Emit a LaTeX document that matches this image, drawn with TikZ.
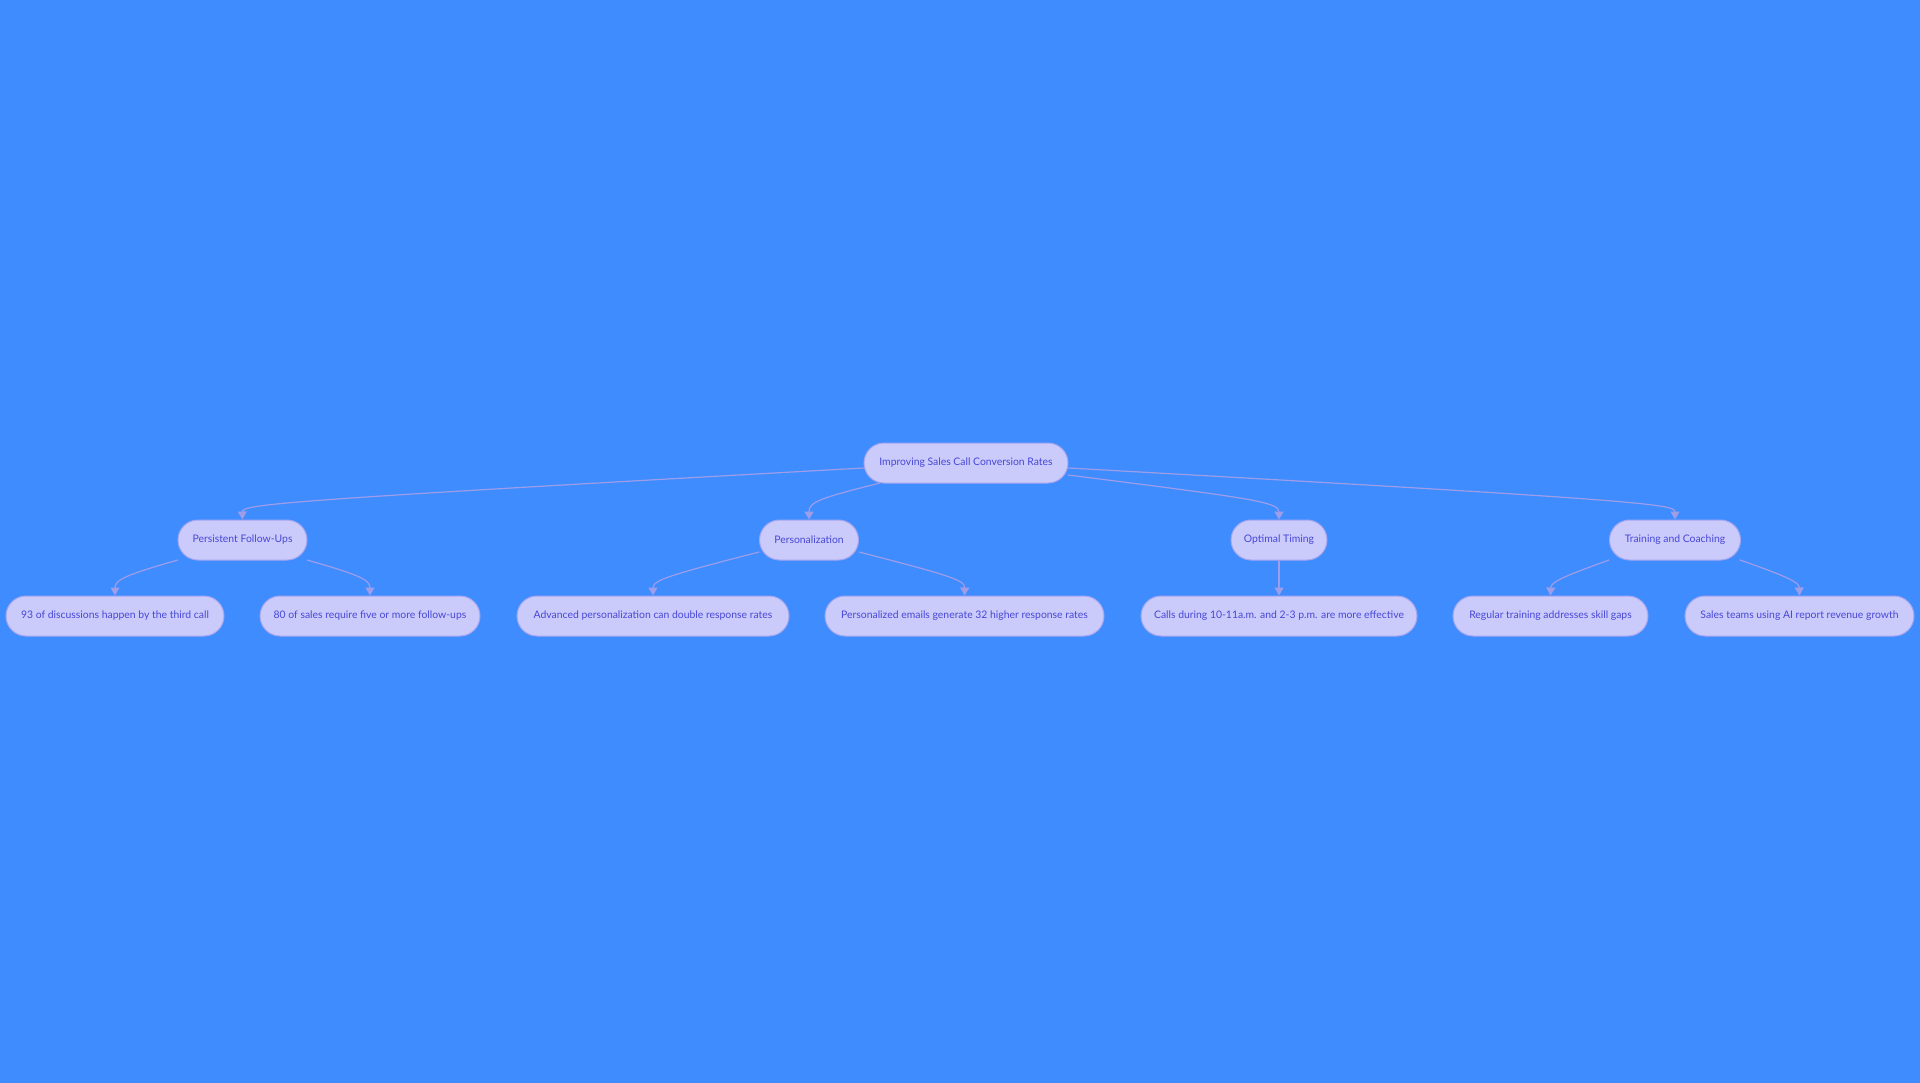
\documentclass[tikz,border=0pt]{standalone}
\usepackage{fontspec}
\setmainfont{Lato}
\usetikzlibrary{arrows.meta}
\definecolor{bgblue}{HTML}{3F8CFF}
\definecolor{pillfill}{HTML}{CACBFB}
\definecolor{pilldraw}{HTML}{A4A5F0}
\definecolor{pilltext}{HTML}{4747D6}
\definecolor{linkcol}{HTML}{9D9DE9}
\tikzset{
	pill/.style={draw=pilldraw, fill=pillfill, text=pilltext, line width=1pt,
		rounded corners=20pt, minimum height=40pt, inner xsep=12pt,
		font=\fontsize{10.4}{12}\selectfont},
	link/.style={draw=linkcol, line width=1.2pt, -{Triangle[width=9pt,length=8pt]}}
}
\begin{document}
\begin{tikzpicture}[x=1pt, y=-1pt, line join=round, line cap=round]
	\fill[bgblue] (0,0) rectangle (1920,1083);
	\useasboundingbox (0,0) rectangle (1920,1083);
	% top
	\node[pill, minimum width=204pt] (root) at (966,463) {Improving Sales Call Conversion Rates};
	% second row
	\node[pill, minimum width=129pt] (pfu) at (242.5,540) {Persistent Follow-Ups};
	\node[pill, minimum width=99pt] (pers) at (809,540) {Personalization};
	\node[pill, minimum width=96pt] (timing) at (1279,540) {Optimal Timing};
	\node[pill, minimum width=131pt] (train) at (1675,540) {Training and Coaching};
	% third row
	\node[pill, minimum width=218pt] (third) at (115,616) {93 of discussions happen by the third call};
	\node[pill, minimum width=220pt] (five) at (370,616) {80 of sales require five or more follow-ups};
	\node[pill, minimum width=272pt] (adv) at (653,616) {Advanced personalization can double response rates};
	\node[pill, minimum width=279pt] (email) at (964.5,616) {Personalized emails generate 32 higher response rates};
	\node[pill, minimum width=276pt] (calls) at (1279,616) {Calls during 10-11a.m. and 2-3 p.m. are more effective};
	\node[pill, minimum width=195pt] (gaps) at (1550.5,616) {Regular training addresses skill gaps};
	\node[pill, minimum width=229pt] (ai) at (1799.5,616) {Sales teams using AI report revenue growth};
	% links
	\draw[link] (root.west|-0,468) .. controls (290,500) and (242,504) .. (pfu.north);
	\draw[link] (880,483) .. controls (820,498) and (809,502) .. (pers.north);
	\draw[link] (1068,475) .. controls (1250,498) and (1279,502) .. (timing.north);
	\draw[link] (root.east|-0,468) .. controls (1640,500) and (1675,504) .. (train.north);
	\draw[link] (178,560) .. controls (125,575) and (115,580) .. (third.north);
	\draw[link] (307,560) .. controls (360,575) and (370,580) .. (five.north);
	\draw[link] (759,552) .. controls (670,575) and (653,580) .. (adv.north);
	\draw[link] (859,552) .. controls (948,575) and (965,580) .. (email.north);
	\draw[link] (timing.south) -- (calls.north);
	\draw[link] (1609,560) .. controls (1562,577) and (1551,582) .. (gaps.north);
	\draw[link] (1740,560) .. controls (1788,577) and (1799,582) .. (ai.north);
\end{tikzpicture}
\end{document}
